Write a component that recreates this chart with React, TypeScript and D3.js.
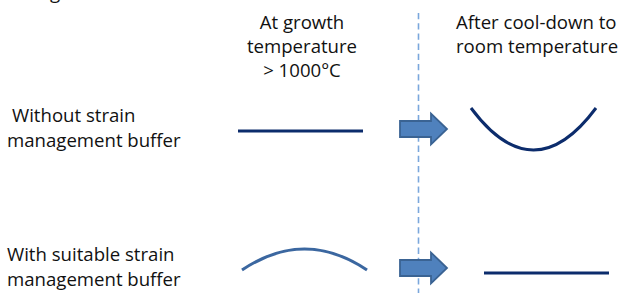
import React, { useEffect, useRef } from "react";
import * as d3 from "d3";

// stages shown left-to-right
const stages = ["growth", "cooled"];
const stageHeaders = [
  ["At growth", "temperature", "> 1000°C"],
  ["After cool-down to", "room temperature"],
];

// rows of the diagram
const rowLabels = [
  ["Without strain", "management buffer"],
  ["With suitable strain", "management buffer"],
];

// wafer bow (arbitrary units, + = concave up / "U", - = convex / arch)
const bowAtGrowth = [0, -1];
const bowAfterCool = [2, 0];
const waferColors = [
  ["#0c2c6c", "#0c2c6c"],
  ["#3b67a0", "#0c2c6c"],
];

const App = () => {
  const svgRef = useRef(null);
  const width = 622;
  const height = 293;

  useEffect(() => {
    if (!svgRef.current) return;
    const svg = d3.select(svgRef.current);
    svg.selectAll("*").remove();

    const font = "'Open Sans', Lato, sans-serif";
    const fontSize = 18.6;

    // bow -> vertical deflection in px
    const bowScale = d3.scaleLinear([0, 1], [0, 21]);
    const waferWidth = 125;

    // row / stage anchors (ends of each wafer line)
    const waferLeft = [
      [238, 471],
      [242, 484],
    ];
    const waferEndY = [
      [131, 108],
      [270, 273],
    ];

    // divider between stages
    svg
      .append("line")
      .attr("x1", 418.5)
      .attr("x2", 418.5)
      .attr("y1", 13)
      .attr("y2", height)
      .attr("stroke", "#7aa7dc")
      .attr("stroke-width", 1.6)
      .attr("stroke-dasharray", "6.3 3.9");

    // stage headers
    const headerAnchor = [
      { x: 302, anchor: "middle" },
      { x: 456, anchor: "start" },
    ];
    stageHeaders.forEach((lines, i) => {
      const t = svg
        .append("text")
        .attr("font-family", font)
        .attr("font-size", fontSize)
        .attr("fill", "#111")
        .attr("text-anchor", headerAnchor[i].anchor);
      lines.forEach((line, j) => {
        t.append("tspan")
          .attr("x", headerAnchor[i].x)
          .attr("y", 29 + j * 24)
          .text(line);
      });
    });

    // partially cut-off text at the very top
    svg
      .append("text")
      .attr("x", 50)
      .attr("y", -1)
      .attr("font-family", font)
      .attr("font-size", fontSize)
      .attr("fill", "#111")
      .text("g");

    // row labels
    const labelX = [12, 7];
    const labelY = [122, 261];
    rowLabels.forEach((lines, i) => {
      const t = svg
        .append("text")
        .attr("font-family", font)
        .attr("font-size", fontSize)
        .attr("fill", "#111");
      lines.forEach((line, j) => {
        t.append("tspan")
          .attr("x", j === 0 ? labelX[i] : 7)
          .attr("y", labelY[i] + j * 25)
          .text(line);
      });
    });

    // wafers
    const drawWafer = (x0, yEnd, bow, color) => {
      const p = d3.path();
      const depth = bowScale(bow);
      p.moveTo(x0, yEnd);
      // quadratic control at twice the depth gives the mid-point deflection
      p.quadraticCurveTo(x0 + waferWidth / 2, yEnd + depth * 2, x0 + waferWidth, yEnd);
      svg
        .append("path")
        .attr("d", p.toString())
        .attr("fill", "none")
        .attr("stroke", color)
        .attr("stroke-width", 3)
        .attr("stroke-linecap", "butt");
    };

    rowLabels.forEach((_, i) => {
      stages.forEach((s, k) => {
        const bow = s === "growth" ? bowAtGrowth[i] : bowAfterCool[i];
        drawWafer(waferLeft[i][k], waferEndY[i][k], bow, waferColors[i][k]);
      });
    });

    // block arrows between stages
    const arrowY = [129, 268];
    const arrow = (x, cy) => {
      const bodyH = 16;
      const headH = 31;
      const bodyW = 31;
      const headW = 16;
      const pts = [
        [x, cy - bodyH / 2],
        [x + bodyW, cy - bodyH / 2],
        [x + bodyW, cy - headH / 2],
        [x + bodyW + headW, cy],
        [x + bodyW, cy + headH / 2],
        [x + bodyW, cy + bodyH / 2],
        [x, cy + bodyH / 2],
      ];
      svg
        .append("path")
        .attr("d", d3.line()(pts) + "Z")
        .attr("fill", "#4f81bd")
        .attr("stroke", "#3a6393")
        .attr("stroke-width", 1.8)
        .attr("stroke-linejoin", "miter");
    };
    arrowY.forEach((cy) => arrow(400, cy));
  }, [svgRef]);

  return (
    <svg
      ref={svgRef}
      width={width}
      height={height}
      style={{ position: "absolute", left: 0, top: 0, background: "#fff" }}
    />
  );
};

export default App;
